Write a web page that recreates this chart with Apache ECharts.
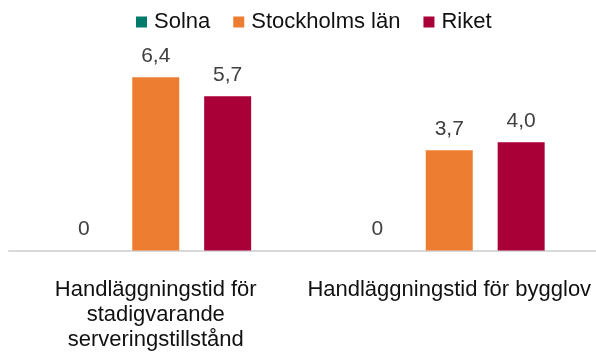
<!DOCTYPE html>
<html>
<head>
<meta charset="utf-8">
<script src="https://cdn.jsdelivr.net/npm/echarts@6/dist/echarts.min.js"></script>
<style>
  html, body { margin: 0; padding: 0; background: #fff; }
  #chart { width: 596px; height: 354px; }
</style>
</head>
<body>
<div id="chart"></div>
<script>
// Processing times: Solna vs. county vs. the whole country
const categories = [
  'Handläggningstid för\nstadigvarande\nserveringstillstånd',
  'Handläggningstid för bygglov'
];
const seriesNames = ['Solna', 'Stockholms län', 'Riket'];
const solna = [0, 0];
const stockholmsLan = [6.4, 3.7];
const riket = [5.7, 4.0];
const colors = ['#007A6B', '#ED7D31', '#A90038'];

const font = 'Liberation Sans, Arial, sans-serif';

function fmt(v) {
  return v === 0 ? '0' : v.toFixed(1).replace('.', ',');
}

function barSeries(name, data, color) {
  return {
    name: name,
    type: 'bar',
    data: data,
    barWidth: 47,
    barGap: '53%',
    itemStyle: { color: color },
    label: {
      show: true,
      position: 'top',
      distance: 11,
      color: '#404040',
      fontFamily: font,
      fontSize: 21,
      formatter: p => fmt(p.value)
    }
  };
}

const chart = echarts.init(document.getElementById('chart'), null, { renderer: 'canvas' });
chart.setOption({
  animation: false,
  legend: {
    top: 11,
    left: 136,
    padding: 0,
    icon: 'rect',
    itemWidth: 11,
    itemHeight: 11,
    itemGap: 23,
    textStyle: {
      color: '#111',
      fontFamily: font,
      fontSize: 22,
      padding: [0, 0, 0, 2]
    },
    data: seriesNames
  },
  grid: {
    left: 9,
    width: 591,
    top: 34,
    bottom: 103.5
  },
  xAxis: {
    type: 'category',
    data: categories,
    axisLine: { lineStyle: { color: '#D9D9D9', width: 2 } },
    axisTick: { show: false },
    axisLabel: {
      interval: 0,
      margin: 27,
      color: '#111',
      fontFamily: font,
      fontSize: 22,
      lineHeight: 25
    }
  },
  yAxis: {
    type: 'value',
    min: 0,
    max: 8,
    show: false,
    splitLine: { show: false }
  },
  series: [
    barSeries(seriesNames[0], solna, colors[0]),
    barSeries(seriesNames[1], stockholmsLan, colors[1]),
    barSeries(seriesNames[2], riket, colors[2])
  ]
});
</script>
</body>
</html>
